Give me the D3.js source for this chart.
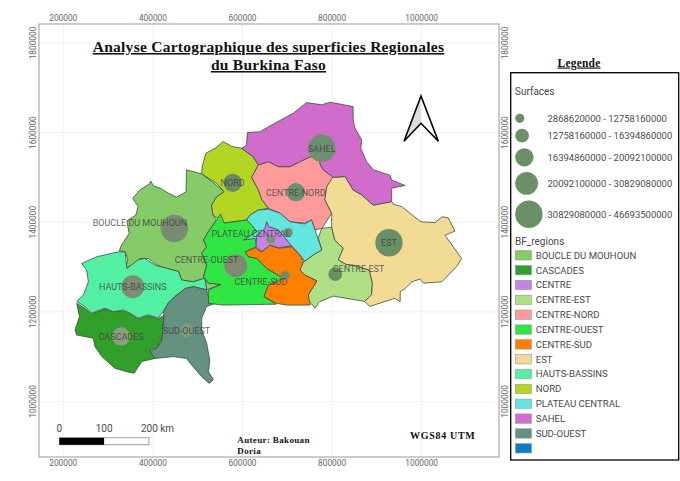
<!DOCTYPE html>
<html>
<head>
<meta charset="utf-8">
<script src="https://cdn.jsdelivr.net/npm/d3@7"></script>
<style>
  html, body { margin: 0; padding: 0; background: #fff; }
  svg { display: block; }
  text { font-family: Roboto, sans-serif; }
  .serif { font-family: "Liberation Serif", serif; font-weight: bold; fill: #111; }
</style>
</head>
<body>
<div id="svgC"></div>
<script>
const boucleDuMouhoun = [[395,1492],[393,1486],[382,1479],[371,1472],[355,1453],[367,1435],[362,1416],[342,1403],[347,1375],[330,1349],[325,1336],[338,1334],[344,1316],[339,1297],[353,1304],[371,1319],[390,1319],[409,1304],[431,1297],[458,1290],[464,1271],[490,1267],[516,1275],[520,1249],[552,1261],[524,1264],[513,1278],[520,1304],[509,1331],[520,1345],[513,1360],[524,1379],[542,1405],[534,1416],[531,1438],[542,1456],[559,1468],[539,1485],[509,1508],[475,1517],[474,1468],[453,1456],[434,1465],[416,1476],[401,1481]];
const cascades = [[230,1219],[248,1208],[263,1195],[293,1206],[312,1200],[334,1202],[349,1195],[367,1184],[390,1191],[412,1184],[425,1193],[420,1137],[409,1119],[394,1115],[405,1096],[375,1089],[358,1063],[342,1066],[315,1074],[286,1100],[271,1122],[267,1141],[230,1148],[226,1159],[236,1189]];
const centre = [[654,1401],[659,1390],[680,1383],[699,1360],[710,1347],[680,1343],[661,1349],[643,1334],[630,1345],[632,1371],[650,1386]];
const centreEst = [[777,1386],[799,1389],[806,1360],[825,1342],[814,1316],[831,1306],[847,1304],[883,1293],[890,1264],[888,1238],[873,1223],[803,1235],[773,1223],[769,1219],[762,1208],[747,1226],[747,1238],[766,1269],[739,1282],[728,1293],[736,1312],[739,1313],[758,1327],[777,1338],[769,1365]];
const centreNord = [[635,1528],[658,1535],[680,1524],[706,1524],[728,1535],[751,1546],[769,1546],[774,1528],[780,1517],[803,1500],[788,1479],[784,1450],[799,1420],[777,1386],[762,1383],[754,1405],[739,1398],[706,1401],[684,1420],[658,1431],[643,1450],[635,1472],[620,1500]];
const centreOuest = [[551,1418],[559,1398],[609,1405],[617,1398],[632,1379],[602,1360],[628,1364],[632,1345],[606,1334],[613,1323],[632,1319],[654,1297],[691,1275],[658,1260],[648,1234],[675,1217],[557,1215],[524,1219],[524,1249],[552,1261],[524,1264],[513,1278],[520,1304],[509,1331],[520,1345],[513,1360],[524,1379],[542,1405]];
const centreSud = [[606,1334],[628,1343],[643,1334],[661,1349],[680,1342],[710,1345],[728,1327],[736,1312],[728,1293],[739,1282],[766,1269],[747,1238],[751,1215],[728,1215],[699,1215],[675,1219],[648,1234],[658,1260],[680,1267],[691,1275],[654,1297],[632,1319],[613,1323]];
const est = [[801,1500],[829,1502],[847,1472],[866,1461],[892,1438],[933,1446],[937,1440],[955,1435],[998,1401],[1030,1399],[1045,1412],[1059,1410],[1074,1380],[1052,1371],[1089,1319],[1078,1301],[1045,1267],[1004,1264],[996,1273],[978,1267],[963,1252],[952,1245],[952,1223],[940,1230],[884,1212],[873,1223],[888,1238],[890,1264],[883,1293],[847,1304],[831,1306],[814,1316],[825,1342],[806,1360],[799,1389],[799,1420],[784,1450],[788,1479]];
const hautsBassins = [[241,1308],[275,1323],[323,1334],[338,1334],[342,1297],[367,1316],[382,1319],[405,1304],[431,1297],[457,1290],[464,1271],[490,1267],[516,1275],[520,1249],[490,1256],[472,1252],[449,1234],[434,1219],[423,1200],[412,1186],[390,1193],[367,1186],[349,1197],[334,1204],[312,1200],[293,1208],[263,1197],[248,1212],[230,1223],[245,1238],[256,1267],[252,1293]];
const nord = [[557,1580],[539,1565],[518,1554],[510,1524],[509,1508],[542,1487],[559,1468],[542,1456],[531,1438],[534,1416],[561,1398],[609,1405],[617,1416],[635,1427],[658,1431],[643,1450],[635,1472],[620,1500],[635,1528],[624,1546],[598,1565],[576,1569]];
const plateauCentral = [[609,1405],[617,1416],[635,1427],[658,1429],[684,1420],[706,1401],[739,1396],[754,1405],[762,1383],[777,1338],[758,1327],[739,1313],[728,1327],[712,1345],[661,1349],[632,1360],[602,1360],[632,1379]];
const sahel = [[598,1565],[609,1572],[611,1600],[639,1602],[665,1617],[713,1643],[743,1667],[777,1662],[795,1668],[847,1658],[847,1628],[851,1610],[866,1584],[864,1565],[877,1535],[892,1517],[929,1505],[933,1494],[963,1482],[933,1476],[933,1446],[892,1438],[866,1461],[847,1472],[829,1502],[803,1500],[780,1517],[774,1528],[769,1546],[751,1546],[728,1535],[706,1524],[680,1524],[658,1535],[635,1528],[624,1546]];
const sudOuest = [[472,1252],[490,1256],[520,1249],[524,1234],[542,1228],[539,1219],[520,1212],[509,1186],[509,1159],[520,1130],[527,1092],[524,1066],[535,1049],[526,1040],[509,1055],[490,1077],[475,1096],[446,1100],[405,1096],[394,1111],[409,1119],[420,1137],[425,1193],[423,1200],[434,1219],[449,1234]];

const regionNames = ['BOUCLE DU MOUHOUN','CASCADES','CENTRE','CENTRE-EST','CENTRE-NORD','CENTRE-OUEST','CENTRE-SUD','EST','HAUTS-BASSINS','NORD','PLATEAU CENTRAL','SAHEL','SUD-OUEST'];
const regionShapes = [boucleDuMouhoun,cascades,centre,centreEst,centreNord,centreOuest,centreSud,est,hautsBassins,nord,plateauCentral,sahel,sudOuest];

// cercles proportionnels: centre de la region et classe de surface (0 a 4)
const circleX = [448,329,663,807,719,585,695,927,355,578,702,777,475];
const circleY = [1386,1145,1362,1284,1467,1303,1281,1354,1256,1488,1377,1565,1158];
const surfaceClass = [4,2,0,1,2,3,0,4,3,2,0,4,1];
const surfaceLabels = ['2868620000 - 12758160000','12758160000 - 16394860000','16394860000 - 20092100000','20092100000 - 30829080000','30829080000 - 46693500000'];

// etiquettes (pas de texte pour CENTRE sur la carte)
const labelNames = ['BOUCLE DU MOUHOUN','CASCADES','CENTRE-EST','CENTRE-NORD','CENTRE-OUEST','CENTRE-SUD','EST','HAUTS-BASSINS','NORD','PLATEAU CENTRAL','SAHEL','SUD-OUEST'];
const labelX = [371,329,859,719,520,641,927,355,578,619,777,475];
const labelY = [1398,1144,1296,1466,1315,1267,1354,1256,1487,1375,1564,1158];

const xTicks = [200000,400000,600000,800000,1000000];
const yTicks = [1000000,1200000,1400000,1600000,1800000];
const scaleBarKm = [0,100,200];

const svg = d3.select('#svgC').append('svg').attr('width',680).attr('height',481);

const xScale = d3.scaleLinear().domain([200,1000]).range([63.3,421.7]);
const yScale = d3.scaleLinear().domain([1000,1800]).range([401.4,43]);
const colorScale = d3.scaleOrdinal(regionNames, ['#85cb67','#31a02b','#c583e6','#b0e086','#ff9a9a','#30e642','#ff7f00','#f2dc95','#52f0a3','#b3d524','#62e6de','#d26ccc','#659180']);
const circleColor = d3.scaleOrdinal(regionNames, ['#7a8b74','#8b9f80','#7e9470','#6f8c63','#6b9070','#808a72','#6f8c6a','#6b9068','#7c8e74','#6b8a62','#6f9070','#6e9070','#7f9b78']);
const radius = d3.scaleLinear().domain([0,4]).range([4.6,13.7]);

const frame = {x0: 39, x1: 499, y0: 24, y1: 457};

// grille
const grid = svg.append('g').attr('stroke','#eeeeee').attr('stroke-width',0.8);
xTicks.forEach(t => {
    grid.append('line').attr('x1',xScale(t/1000)).attr('x2',xScale(t/1000)).attr('y1',frame.y0).attr('y2',frame.y1);
});
yTicks.forEach(t => {
    grid.append('line').attr('y1',yScale(t/1000)).attr('y2',yScale(t/1000)).attr('x1',frame.x0).attr('x2',frame.x1);
});

// regions
const line = d3.line().x(d => xScale(d[0])).y(d => yScale(d[1])).curve(d3.curveLinearClosed);
const drawOrder = [0,1,3,4,7,8,9,11,12,10,5,6,2];
svg.append('g').selectAll('path').data(drawOrder).enter().append('path')
    .attr('d', i => line(regionShapes[i]))
    .attr('fill', i => colorScale(regionNames[i]))
    .attr('stroke', '#3f4a3f')
    .attr('stroke-width', 0.8)
    .attr('stroke-linejoin', 'round');

// cercles
svg.append('g').selectAll('circle').data(regionNames).enter().append('circle')
    .attr('cx', (d,i) => xScale(circleX[i]))
    .attr('cy', (d,i) => yScale(circleY[i]))
    .attr('r', (d,i) => radius(surfaceClass[i]))
    .attr('fill', d => circleColor(d));

// etiquettes
svg.append('g').selectAll('text').data(labelNames).enter().append('text')
    .attr('x', (d,i) => xScale(labelX[i]))
    .attr('y', (d,i) => yScale(labelY[i]))
    .attr('dy', '0.35em')
    .attr('text-anchor', 'middle')
    .attr('font-size', 9)
    .attr('fill', '#3c3c3c')
    .attr('fill-opacity', 0.8)
    .text(d => d);

// cadre et graduations
svg.append('rect').attr('x',frame.x0).attr('y',frame.y0).attr('width',frame.x1-frame.x0).attr('height',frame.y1-frame.y0)
    .attr('fill','none').attr('stroke','#aaaaaa').attr('stroke-width',1.2);

xTicks.forEach(t => {
    [18.5,463].forEach(y => {
        svg.append('text').attr('x',xScale(t/1000)).attr('y',y).attr('dy','0.35em').attr('text-anchor','middle')
            .attr('font-size',8.3).attr('fill','#666').text(t);
    });
});
yTicks.forEach(t => {
    [33,505].forEach(x => {
        svg.append('text').attr('transform','translate(' + x + ',' + yScale(t/1000) + ') rotate(-90)')
            .attr('dy','0.35em').attr('text-anchor','middle')
            .attr('font-size',8.3).attr('fill','#666').text(t);
    });
});

// titre
const title = svg.append('g').attr('class','serif').attr('text-anchor','middle').attr('font-size',15.5).attr('text-decoration','underline').attr('letter-spacing',0.27);
title.append('text').attr('class','serif').attr('x',268.5).attr('y',52).text('Analyse Cartographique des superficies Regionales');
title.append('text').attr('class','serif').attr('x',268.5).attr('y',70).text('du Burkina Faso');

// fleche du nord
const arrow = svg.append('g').attr('stroke-linejoin','miter');
arrow.append('path').attr('d','M421,96 L404,141.3 L421,123.3 Z').attr('fill','#dddddd');
arrow.append('path').attr('d','M421,96 L404,141.3 L421,123.3 L438.3,141.3 Z').attr('fill','none').attr('stroke','#000').attr('stroke-width',1.6);

// echelle
const barX = d => xScale(200 + d) - xScale(200) + 59.3;
svg.append('rect').attr('x',barX(0)).attr('y',437.8).attr('width',barX(200)-barX(0)).attr('height',7)
    .attr('fill','#fff').attr('stroke','#777').attr('stroke-width',0.7);
svg.append('rect').attr('x',barX(0)).attr('y',437.8).attr('width',barX(100)-barX(0)).attr('height',7).attr('fill','#000');
svg.selectAll('text.bar').data(scaleBarKm).enter().append('text').attr('class','bar')
    .attr('x', d => d == 200 ? 157.5 : barX(d))
    .attr('y', 428).attr('dy','0.35em')
    .attr('text-anchor', 'middle')
    .attr('font-size', 10).attr('fill','#4a4a4a')
    .text(d => d == 200 ? '200 km' : d);

// auteur, projection
svg.append('text').attr('class','serif').attr('x',237.3).attr('y',443).attr('font-size',9).attr('letter-spacing',0.35).text('Auteur: Bakouan');
svg.append('text').attr('class','serif').attr('x',237.3).attr('y',454).attr('font-size',9).attr('letter-spacing',0.35).text('Doria');
svg.append('text').attr('class','serif').attr('x',410).attr('y',439).attr('font-size',10).attr('letter-spacing',0.7).text('WGS84 UTM');

// legende
svg.append('text').attr('class','serif').attr('x',579).attr('y',66.5).attr('text-anchor','middle').attr('font-size',11.5).attr('letter-spacing',0.2).attr('text-decoration','underline').text('Legende');
svg.append('rect').attr('x',510.7).attr('y',72.7).attr('width',168).attr('height',387.3).attr('fill','#fff').attr('stroke','#000').attr('stroke-width',1.3);

const legendText = '#4a4a4a';
svg.append('text').attr('x',515).attr('y',91).attr('dy','0.35em').attr('font-size',10).attr('fill',legendText).text('Surfaces');

const legendCircleY = d3.scaleOrdinal([0,1,2,3,4],[118.3,135.7,157.3,183.3,214.3]);
const circles = svg.append('g').selectAll('g').data(surfaceLabels).enter().append('g');
circles.append('circle')
    .attr('cx', (d,i) => 515.2 + radius(i))
    .attr('cy', (d,i) => legendCircleY(i))
    .attr('r', (d,i) => radius(i))
    .attr('fill','#6b9068');
circles.append('text')
    .attr('x',547.5)
    .attr('y',(d,i) => legendCircleY(i)).attr('dy','0.35em')
    .attr('font-size',9.5).attr('fill',legendText)
    .text(d => d);

svg.append('text').attr('x',515).attr('y',241).attr('dy','0.35em').attr('font-size',10).attr('fill',legendText).text('BF_regions');

const rowY = d3.scaleLinear().domain([0,13]).range([255.3,448.3]);
const rows = svg.append('g').selectAll('g').data(regionNames.concat([''])).enter().append('g');
rows.append('rect')
    .attr('x',515.3)
    .attr('y',(d,i) => rowY(i) - 4.7)
    .attr('width',16.2)
    .attr('height',9.4)
    .attr('fill',d => d === '' ? '#0b7fc6' : colorScale(d))
    .attr('stroke','#999')
    .attr('stroke-width',0.6);
rows.append('text')
    .attr('x',535.7)
    .attr('y',(d,i) => rowY(i)).attr('dy','0.35em')
    .attr('font-size',9.6).attr('fill',legendText)
    .text(d => d);
</script>
</body>
</html>
